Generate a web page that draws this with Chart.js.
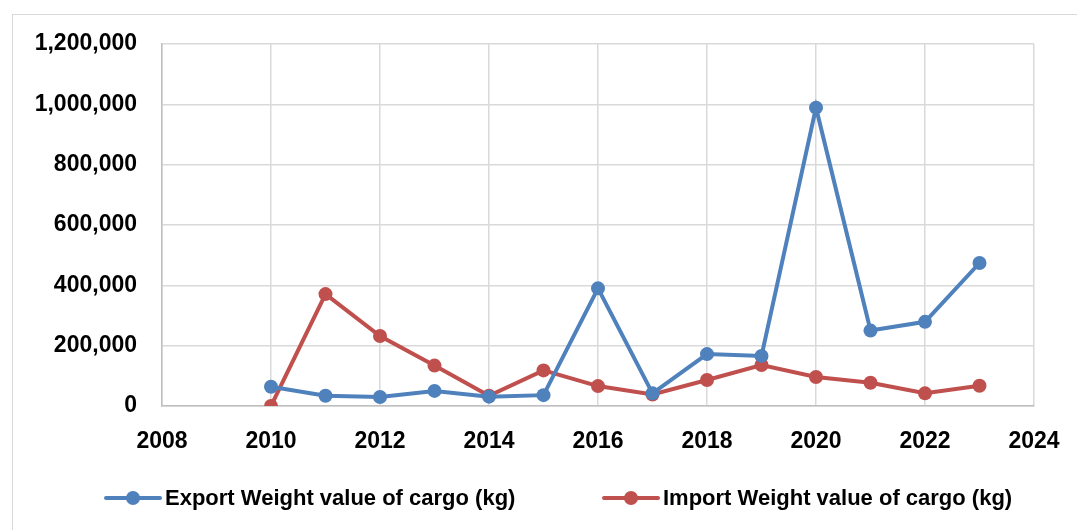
<!DOCTYPE html>
<html>
<head>
<meta charset="utf-8">
<script src="https://cdn.jsdelivr.net/npm/chart.js@4.4.1/dist/chart.umd.min.js"></script>
<style>
  html, body { margin: 0; padding: 0; background: #fff; }
  #wrap { position: relative; width: 1077px; height: 530px; overflow: hidden; }
  #frame { position: absolute; left: 12px; top: 14px; width: 1100px; height: 600px;
           border-left: 1.5px solid #d9d9d9; border-top: 1.5px solid #d9d9d9; }
  canvas { position: absolute; left: 0; top: 0; }
</style>
</head>
<body>
<div id="wrap">
  <div id="frame"></div>
  <canvas id="c" width="1077" height="530"></canvas>
</div>
<script>
const years = [2010, 2011, 2012, 2013, 2014, 2015, 2016, 2017, 2018, 2019, 2020, 2021, 2022, 2023];
const exportWeight = [64000, 34000, 30000, 50000, 31000, 36000, 390000, 42000, 172000, 166000, 989000, 250000, 279000, 474000];
const importWeight = [0, 371000, 232000, 134000, 34000, 118000, 66000, 38000, 86000, 136000, 96000, 77000, 42000, 67000];
const seriesNames = ['Export Weight value of cargo (kg)', 'Import Weight value of cargo (kg)'];
const xTicks = [2008, 2010, 2012, 2014, 2016, 2018, 2020, 2022, 2024];
const yTicks = [0, 200000, 400000, 600000, 800000, 1000000, 1200000];

const BLUE = '#4F81BD';
const RED = '#C0504D';
const FONT = '"Liberation Sans", Arial, sans-serif';

const toPts = (vals) => years.map((y, i) => ({ x: y, y: vals[i] }));

const legendPlugin = {
  id: 'bottomLegend',
  afterDraw(chart) {
    const ctx = chart.ctx;
    const starts = [106, 604];
    const yc = 498;
    ctx.save();
    ctx.font = 'bold 22px ' + FONT;
    ctx.textBaseline = 'middle';
    chart.data.datasets.forEach((ds, i) => {
      const x0 = starts[i];
      ctx.strokeStyle = ds.borderColor;
      ctx.lineWidth = 4;
      ctx.lineCap = 'round';
      ctx.beginPath();
      ctx.moveTo(x0, yc);
      ctx.lineTo(x0 + 54, yc);
      ctx.stroke();
      ctx.fillStyle = ds.borderColor;
      ctx.beginPath();
      ctx.arc(x0 + 27, yc, 7, 0, Math.PI * 2);
      ctx.fill();
      ctx.fillStyle = '#000';
      ctx.fillText(ds.label, x0 + 59, yc + 1);
    });
    ctx.restore();
  }
};

new Chart(document.getElementById('c'), {
  type: 'line',
  data: {
    datasets: [
      { label: seriesNames[0], data: toPts(exportWeight), borderColor: BLUE, backgroundColor: BLUE,
        borderWidth: 4, pointRadius: 7, pointHoverRadius: 7, pointBorderWidth: 0, tension: 0 },
      { label: seriesNames[1], data: toPts(importWeight), borderColor: RED, backgroundColor: RED,
        borderWidth: 4, pointRadius: 7, pointHoverRadius: 7, pointBorderWidth: 0, tension: 0 }
    ]
  },
  options: {
    responsive: false,
    animation: false,
    layout: { padding: { top: 44, right: 43, bottom: 74, left: 0 } },
    plugins: { legend: { display: false }, tooltip: { enabled: false } },
    scales: {
      x: {
        type: 'linear', min: 2008, max: 2024,
        afterBuildTicks: (s) => { s.ticks = xTicks.map(v => ({ value: v })); },
        afterFit: (s) => { s.height = 50; s.paddingRight = 0; s.paddingLeft = 0; },
        grid: { color: '#d9d9d9', lineWidth: 1.5, drawTicks: false },
        border: { color: '#bfbfbf', width: 1.5 },
        ticks: { color: '#000', padding: 22, maxRotation: 0, font: { family: FONT, size: 23, weight: 'bold' },
                 callback: (v) => String(v) }
      },
      y: {
        min: 0, max: 1200000,
        afterBuildTicks: (s) => { s.ticks = yTicks.map(v => ({ value: v })); },
        afterFit: (s) => { s.width = 162; s.paddingTop = 0; s.paddingBottom = 0; },
        grid: { color: '#d9d9d9', lineWidth: 1.5, drawTicks: false },
        border: { color: '#bfbfbf', width: 1.5 },
        ticks: { color: '#000', padding: 25, font: { family: FONT, size: 23, weight: 'bold' },
                 callback: (v) => v.toLocaleString('en-US') }
      }
    }
  },
  plugins: [legendPlugin]
});
</script>
</body>
</html>
